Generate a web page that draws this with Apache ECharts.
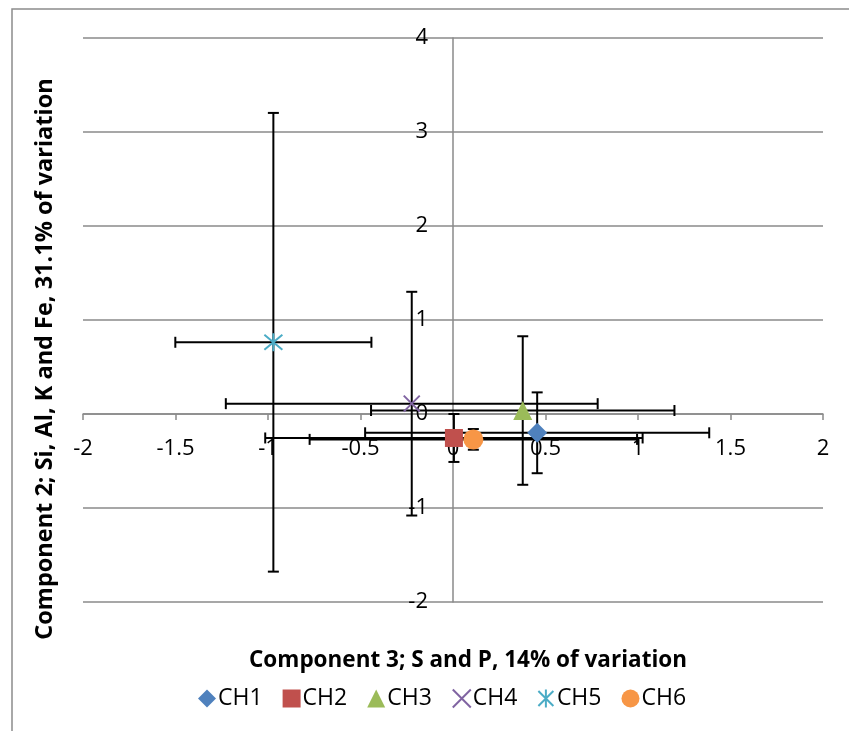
<!DOCTYPE html>
<html>
<head>
<meta charset="utf-8">
<script src="https://cdn.jsdelivr.net/npm/echarts@6/dist/echarts.min.js"></script>
<style>
  html, body { margin: 0; padding: 0; background: #fff; }
  #chart { width: 849px; height: 731px; }
</style>
</head>
<body>
<div id="chart"></div>
<script>
// Principal component scores per site (mean ± error)
const seriesNames = ['CH1', 'CH2', 'CH3', 'CH4', 'CH5', 'CH6'];
const comp3Means  = [0.455, 0.005, 0.377, -0.223, -0.971, 0.11];
const comp2Means  = [-0.20, -0.255, 0.037, 0.11, 0.763, -0.27];
const comp3Errors = [0.93, 1.02, 0.82, 1.005, 0.53, 0.885];
const comp2Errors = [0.43, 0.255, 0.79, 1.19, 2.44, 0.11];

const X_MIN = -2, X_MAX = 2, X_STEP = 0.5;
const Y_MIN = -2, Y_MAX = 4, Y_STEP = 1;

const colors  = ['#4F81BD', '#C0504D', '#9BBB59', '#8064A2', '#4BACC6', '#F79646'];
const crossPath = 'path://M0,0L10,10M10,0L0,10';
const starPath  = 'path://M0,0L10,10M10,0L0,10M5,-1L5,11';
const symbols = ['diamond', 'rect', 'triangle', crossPath, starPath, 'circle'];
const symbolSizes = [20, 18, 19, 16, 18, 20];
const FONT = '"Open Sans", "Liberation Sans", sans-serif';
const GRID_GRAY = '#8a8a8a';

const chart = echarts.init(document.getElementById('chart'), null, { renderer: 'canvas' });

const errorData = seriesNames.map((n, i) => [comp3Means[i], comp2Means[i], comp3Errors[i], comp2Errors[i]]);

function renderErrorBar(params, api) {
  const x = api.value(0), y = api.value(1), ex = api.value(2), ey = api.value(3);
  const l = api.coord([x - ex, y]);
  const r = api.coord([x + ex, y]);
  const t = api.coord([x, y + ey]);
  const b = api.coord([x, y - ey]);
  const cap = 5.5;
  const style = { stroke: '#000', lineWidth: 2, fill: null };
  const seg = (x1, y1, x2, y2) => ({ type: 'line', shape: { x1, y1, x2, y2 }, style });
  return {
    type: 'group',
    children: [
      seg(l[0], l[1], r[0], r[1]),
      seg(l[0], l[1] - cap, l[0], l[1] + cap),
      seg(r[0], r[1] - cap, r[0], r[1] + cap),
      seg(t[0], t[1], b[0], b[1]),
      seg(t[0] - cap, t[1], t[0] + cap, t[1]),
      seg(b[0] - cap, b[1], b[0] + cap, b[1])
    ]
  };
}

const scatterSeries = seriesNames.map((name, i) => {
  const lineSymbol = symbols[i] === crossPath || symbols[i] === starPath;
  return {
    name,
    type: 'scatter',
    z: 5,
    symbol: symbols[i],
    symbolSize: symbolSizes[i],
    itemStyle: lineSymbol
      ? { color: 'rgba(0,0,0,0)', borderColor: colors[i], borderWidth: 2, opacity: 1 }
      : { color: colors[i], opacity: 1 },
    data: [[comp3Means[i], comp2Means[i]]]
  };
});

const option = {
  animation: false,
  backgroundColor: '#fff',
  textStyle: { fontFamily: FONT },
  grid: { left: 83, right: 26, top: 38, bottom: 129, containLabel: false },
  xAxis: {
    type: 'value',
    min: X_MIN, max: X_MAX, interval: X_STEP,
    axisLine: { onZero: false, lineStyle: { color: GRID_GRAY, width: 1.5 } },
    axisTick: { show: true, length: 6, lineStyle: { color: GRID_GRAY, width: 1.5 } },
    axisLabel: { margin: 24, fontSize: 22, color: '#000', fontFamily: FONT },
    splitLine: { show: false }
  },
  yAxis: {
    type: 'value',
    min: Y_MIN, max: Y_MAX, interval: Y_STEP,
    axisLine: { show: true, onZero: false, lineStyle: { color: GRID_GRAY, width: 1.5 } },
    axisTick: { show: false },
    axisLabel: { margin: 25, fontSize: 22, color: '#000', fontFamily: FONT },
    splitLine: { show: true, lineStyle: { color: GRID_GRAY, width: 1.5 } }
  },
  legend: {
    data: seriesNames.map((n, i) => ({ name: n, icon: symbols[i] })),
    left: 193, top: 682,
    itemWidth: 18, itemHeight: 18, itemGap: 20,
    textStyle: { fontSize: 23, color: '#000', fontFamily: FONT, padding: [0, 0, 0, -3] }
  },
  graphic: [
    {
      type: 'rect', silent: true,
      shape: { x: 12, y: 9, width: 860, height: 740 },
      style: { fill: null, stroke: '#8c8c8c', lineWidth: 1.5 }
    },
    {
      type: 'text', silent: true,
      x: 468, y: 661,
      style: {
        text: 'Component 3; S and P, 14% of variation',
        font: 'bold 22.5px ' + FONT, fill: '#000',
        textAlign: 'center', textVerticalAlign: 'middle'
      }
    },
    {
      type: 'text', silent: true,
      x: 45, y: 359, rotation: Math.PI / 2,
      style: {
        text: 'Component 2; Si, Al, K and Fe, 31.1% of variation',
        font: 'bold 23.5px ' + FONT, fill: '#000',
        textAlign: 'center', textVerticalAlign: 'middle'
      }
    }
  ],
  series: [
    {
      name: 'errorBars',
      type: 'custom',
      z: 2,
      renderItem: renderErrorBar,
      encode: { x: 0, y: 1 },
      data: errorData,
      silent: true
    },
    ...scatterSeries
  ]
};

chart.setOption(option);

// Move both axes (line, ticks and labels) so they cross at the origin.
const origin = chart.convertToPixel({ gridIndex: 0 }, [0, 0]);
const corner = chart.convertToPixel({ gridIndex: 0 }, [X_MIN, Y_MIN]);
chart.setOption({
  xAxis: { offset: origin[1] - corner[1] },
  yAxis: { offset: corner[0] - origin[0] }
});
</script>
</body>
</html>
